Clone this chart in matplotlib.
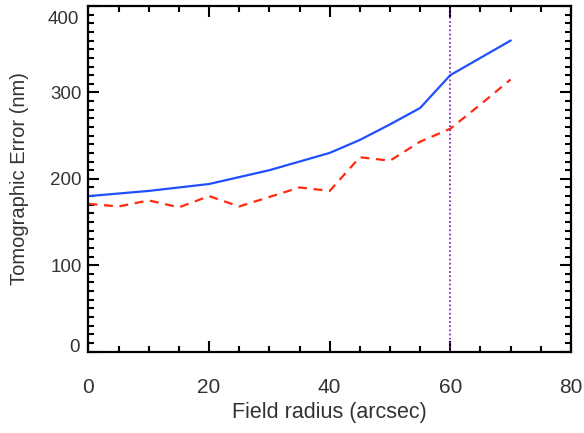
import matplotlib
matplotlib.use("Agg")
from matplotlib import pyplot as plt
from matplotlib.ticker import MultipleLocator, FuncFormatter
from matplotlib.transforms import offset_copy

# field radius (arcsec)
radius = [0, 5, 10, 15, 20, 25, 30, 35, 40, 45, 50, 55, 60, 65, 70]
# tomographic error (nm), solid blue curve
err_blue = [180, 183, 186, 190, 194, 202, 210, 220, 230, 245, 263, 282, 320, 340, 360]
# tomographic error (nm), dashed red curve
err_red = [171, 168, 175, 167, 180, 168, 179, 190, 186, 225, 221, 243, 258, 286, 315]
field_limit = 60

plt.rcParams['font.family'] = ['Liberation Sans', 'DejaVu Sans']
txtcol = '#333333'

fig = plt.figure(figsize=(5.84, 4.33), dpi=100)
ax = fig.add_axes([0.1515, 0.188, 0.826, 0.798])

ax.plot(radius, err_blue, color='#1f4fff', lw=1.6)
ax.plot(radius, err_red, color='#ff2a10', lw=1.6, ls=(0, (4, 3)))
ax.axvline(field_limit, color='#7a10c0', lw=1.2, ls=(0, (1, 1.5)))

ax.set_xlim(0, 80)
ax.set_ylim(0, 400)
ax.xaxis.set_major_locator(MultipleLocator(20))
ax.xaxis.set_minor_locator(MultipleLocator(5))
ax.yaxis.set_major_locator(MultipleLocator(100))
ax.yaxis.set_minor_locator(MultipleLocator(10))

# end labels are drawn by hand below (IDL keeps them inside the box)
ax.yaxis.set_major_formatter(FuncFormatter(lambda v, p: '' if v in (0, 400) else '%d' % v))

for s in ax.spines.values():
    s.set_linewidth(1.6)
ax.tick_params(which='both', direction='in', top=True, right=True, width=1.5, color='black')
ax.tick_params(which='major', length=8)
ax.tick_params(which='minor', length=4.5)
ax.tick_params(axis='x', labelsize=15, pad=19, labelcolor=txtcol)
ax.tick_params(axis='y', labelsize=13.5, pad=5, labelcolor=txtcol)

ytr = ax.get_yaxis_transform()
ax.text(0, 0, '0', fontsize=13.5, color=txtcol, ha='right', va='center_baseline',
        transform=offset_copy(ytr, fig=fig, x=-6.5, y=4.5, units='points'))
ax.text(0, 400, '400', fontsize=13.5, color=txtcol, ha='right', va='center_baseline',
        transform=offset_copy(ytr, fig=fig, x=-6.5, y=-8, units='points'))

ax.set_xlabel('Field radius (arcsec)', fontsize=15.5, color=txtcol)
ax.xaxis.set_label_coords(0.5, -0.145)
ax.set_ylabel('Tomographic Error (nm)', fontsize=14.5, color=txtcol)
ax.yaxis.set_label_coords(-0.142, 0.5)
ax.yaxis.label.set_va('center')

fig.savefig('out.png', dpi=100)
